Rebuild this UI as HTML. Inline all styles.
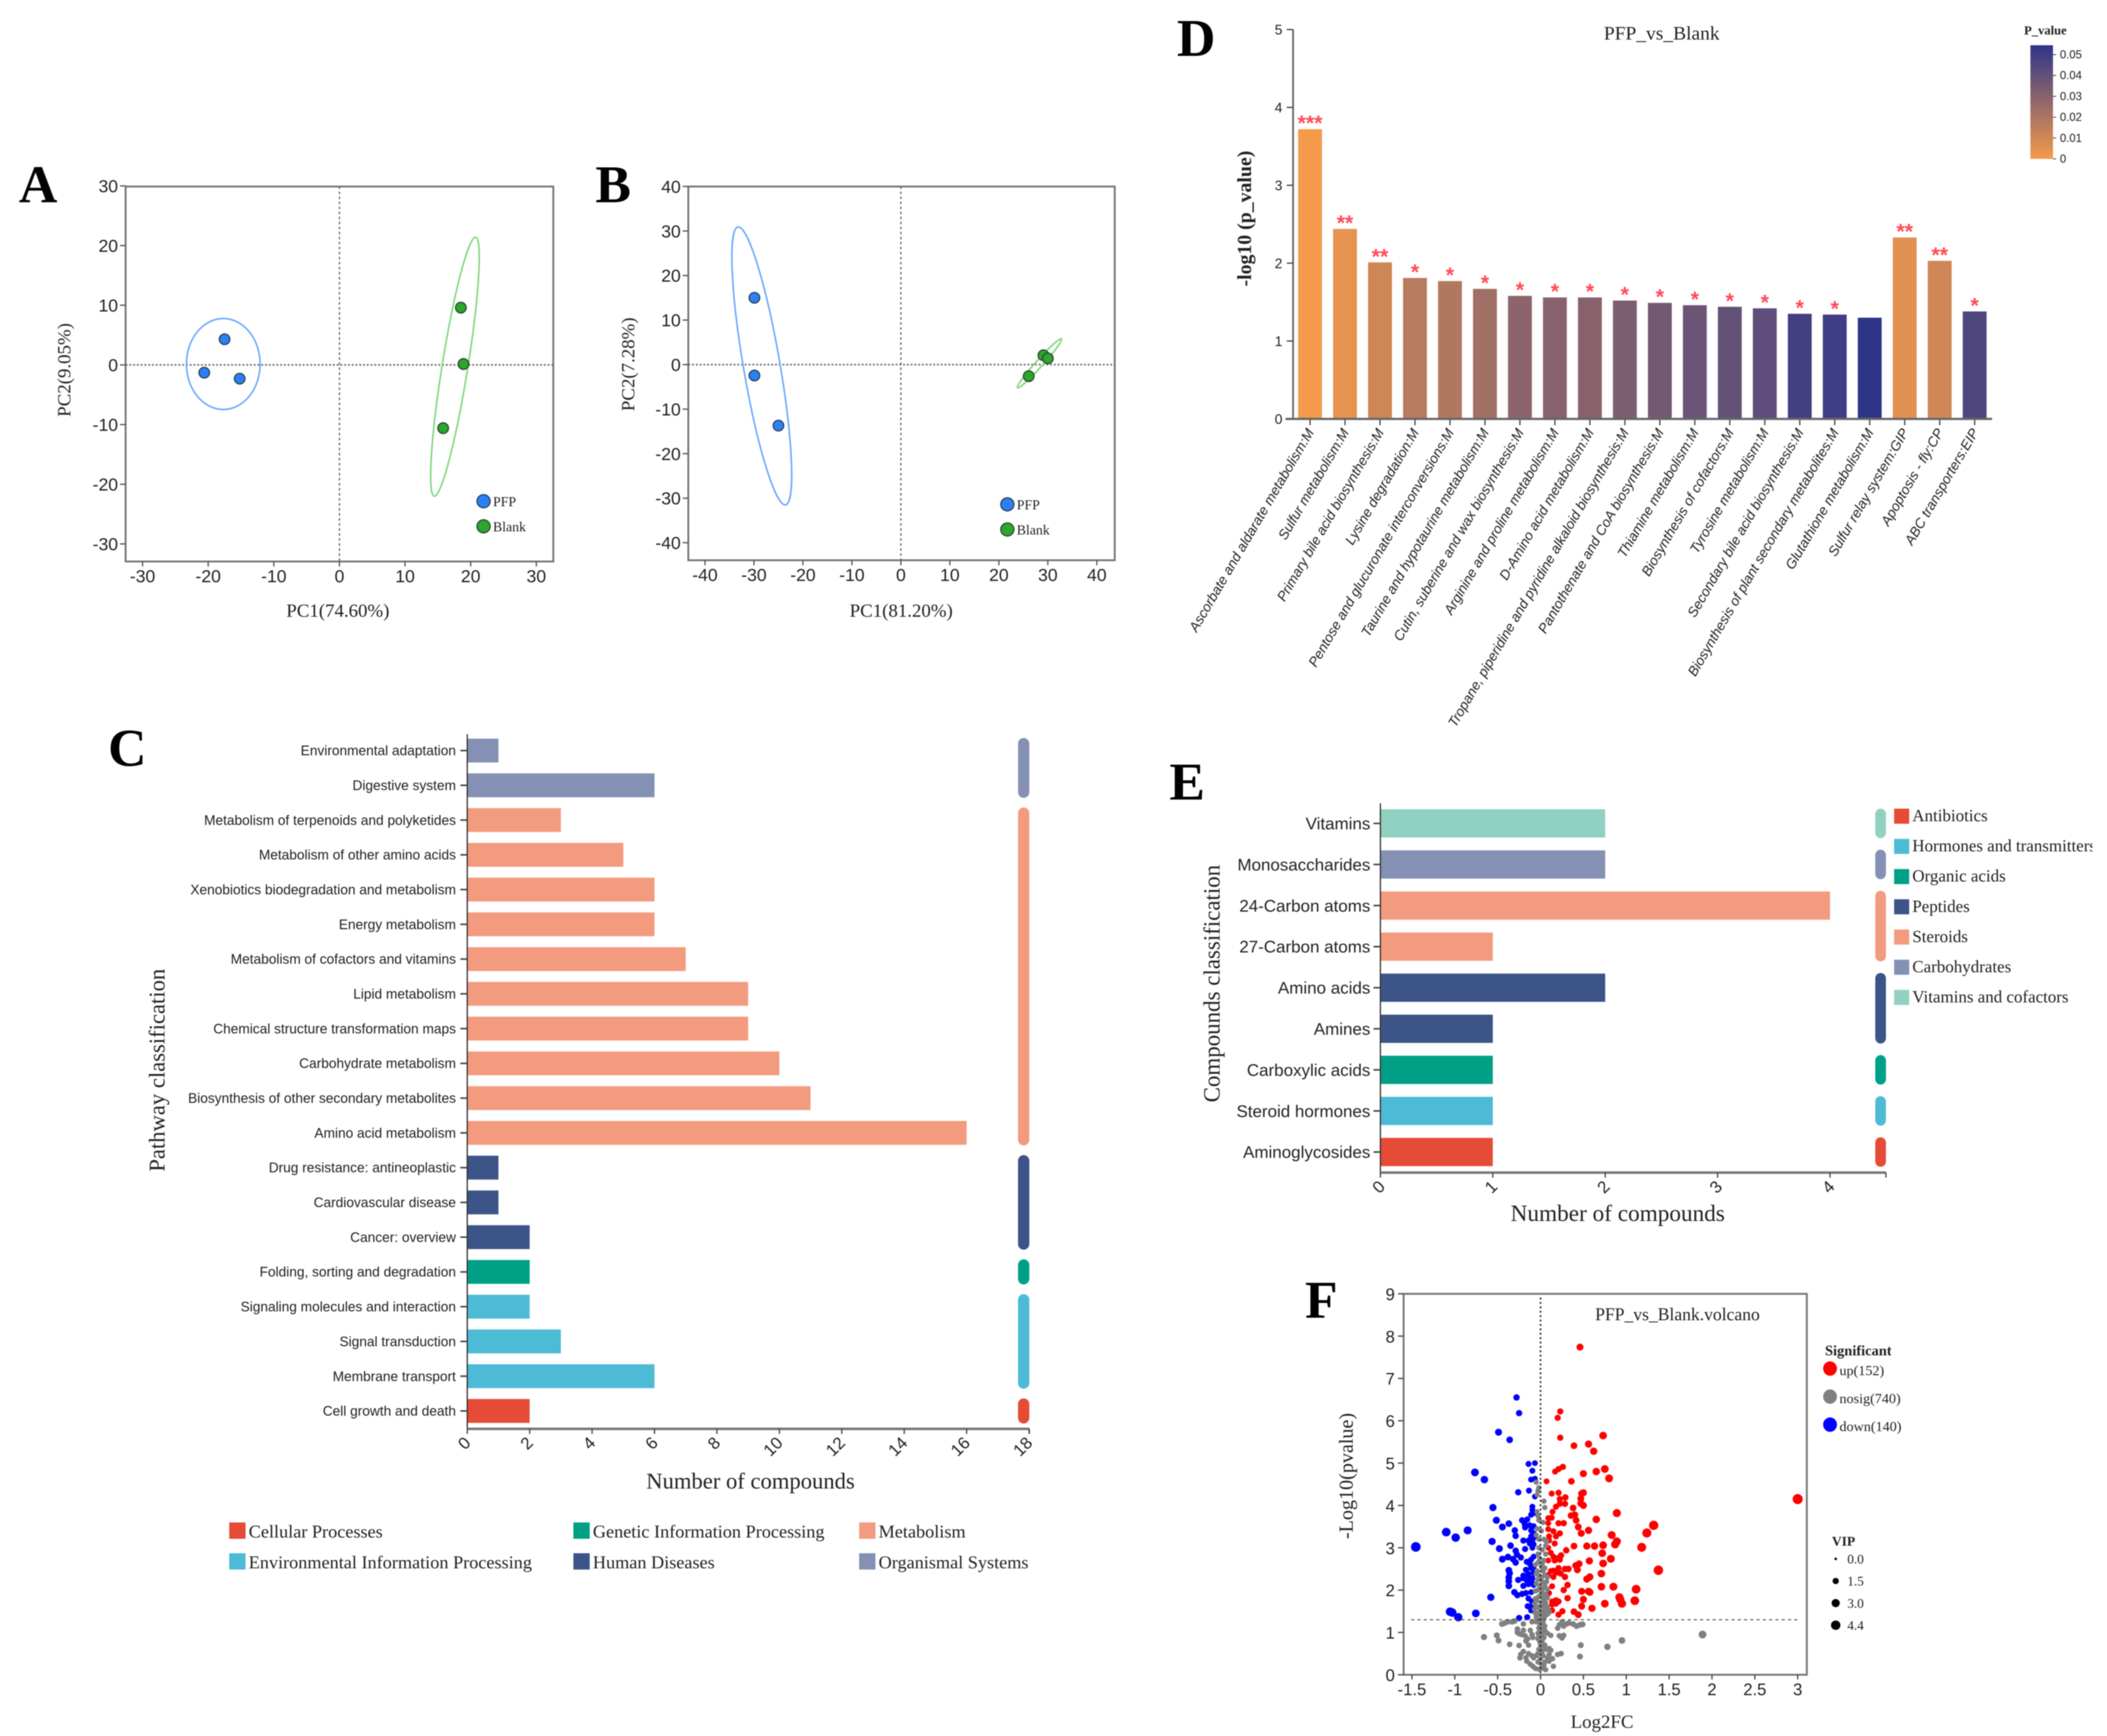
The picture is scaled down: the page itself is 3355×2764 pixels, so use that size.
<!DOCTYPE html>
<html lang="en">
<head>
<meta charset="utf-8">
<title>Metabolomics composite figure</title>
<style>
html,body{margin:0;padding:0;background:#fff;}
#figure{display:block;width:3355px;height:2764px;background:#fff;filter:blur(0.7px);}
.sans{font-family:"Liberation Sans",sans-serif;fill:#222;}
.serif{font-family:"Liberation Serif",serif;fill:#222;}
.letter{font-family:"Liberation Serif",serif;font-weight:700;font-size:85px;fill:#000;}
</style>
</head>
<body>
<svg id="figure" xmlns="http://www.w3.org/2000/svg" width="3355" height="2764" viewBox="0 0 3355 2764">
  <defs>
    <linearGradient id="pGradient" x1="0" y1="1" x2="0" y2="0">
      <stop offset="0" stop-color="#f59a4b"/>
      <stop offset="1" stop-color="#2e3589"/>
    </linearGradient>
    <clipPath id="legendClip"><rect x="3000" y="1270" width="332" height="400"/></clipPath>
  </defs>

  <text class="letter" x="30" y="322">A</text>
  <text class="letter" x="948" y="322">B</text>
  <text class="letter" x="172" y="1219">C</text>
  <text class="letter" x="1874" y="89">D</text>
  <text class="letter" x="1862" y="1273">E</text>
  <text class="letter" x="2078" y="2098">F</text>

  <g id="panelA">
    <text class="serif" x="538" y="982" text-anchor="middle" font-size="30">PC1(74.60%)</text>
    <text class="serif" x="112" y="589" text-anchor="middle" font-size="30" transform="rotate(-90 112 589)">PC2(9.05%)</text>
  </g>
  <g id="panelB">
    <text class="serif" x="1435" y="982" text-anchor="middle" font-size="30">PC1(81.20%)</text>
    <text class="serif" x="1010" y="580" text-anchor="middle" font-size="30" transform="rotate(-90 1010 580)">PC2(7.28%)</text>
  </g>
  <g id="panelC">
    <text class="serif" x="1195" y="2370" text-anchor="middle" font-size="36">Number of compounds</text>
    <text class="serif" x="262" y="1704" text-anchor="middle" font-size="36" transform="rotate(-90 262 1704)">Pathway classification</text>
  </g>
  <g id="panelD">
    <text class="serif" x="2646" y="63" text-anchor="middle" font-size="31">PFP_vs_Blank</text>
    <text class="serif" x="1992" y="348" text-anchor="middle" font-size="31.5" font-weight="700" transform="rotate(-90 1992 348)">-log10 (p_value)</text>
    <text class="serif" x="3223" y="55" font-size="20" font-weight="700">P_value</text>
    <rect x="3233" y="72" width="36" height="181" fill="url(#pGradient)"/>
  </g>
  <g id="panelE">
    <text class="serif" x="2576" y="1944" text-anchor="middle" font-size="37">Number of compounds</text>
    <text class="serif" x="1942" y="1566" text-anchor="middle" font-size="36.5" transform="rotate(-90 1942 1566)">Compounds classification</text>
  </g>
  <g id="panelF">
    <text class="serif" x="2540" y="2102" font-size="28">PFP_vs_Blank.volcano</text>
    <text class="serif" x="2551" y="2751" text-anchor="middle" font-size="30">Log2FC</text>
    <text class="serif" x="2154" y="2350" text-anchor="middle" font-size="32" transform="rotate(-90 2154 2350)">-Log10(pvalue)</text>
    <text class="serif" x="2906" y="2158" font-size="23" font-weight="700">Significant</text>
    <text class="serif" x="2917" y="2461" font-size="21.5" font-weight="700">VIP</text>
  </g>
</svg>

<script>
/* ---------- Panel A / B data ---------- */
const pcaTicksA = [-30, -20, -10, 0, 10, 20, 30];
const pcaAPfpX = [-17.5, -20.6, -15.2];
const pcaAPfpY = [4.3, -1.3, -2.3];
const pcaABlankX = [18.5, 18.9, 15.8];
const pcaABlankY = [9.6, 0.15, -10.6];
const ellipseAPfp = [-17.7, 0.15, 0, 7.62, 0.81];
const ellipseABlank = [17.6, -0.3, 3.16, 21.7, 0.098];

const pcaTicksB = [-40, -30, -20, -10, 0, 10, 20, 30, 40];
const pcaBPfpX = [-29.9, -29.9, -25];
const pcaBPfpY = [15, -2.45, -13.7];
const pcaBBlankX = [29.1, 30, 26.1];
const pcaBBlankY = [2.1, 1.4, -2.6];
const ellipseBPfp = [-28.4, -0.3, -4.86, 31.2, 0.13];
const ellipseBBlank = [28.3, 0.3, 4.5, 5.5, 0.105];

/* ---------- Panel C data ---------- */
const pathwayNames = ["Environmental adaptation","Digestive system","Metabolism of terpenoids and polyketides","Metabolism of other amino acids","Xenobiotics biodegradation and metabolism","Energy metabolism","Metabolism of cofactors and vitamins","Lipid metabolism","Chemical structure transformation maps","Carbohydrate metabolism","Biosynthesis of other secondary metabolites","Amino acid metabolism","Drug resistance: antineoplastic","Cardiovascular disease","Cancer: overview","Folding, sorting and degradation","Signaling molecules and interaction","Signal transduction","Membrane transport","Cell growth and death"];
const pathwayCounts = [1,6,3,5,6,6,7,9,9,10,11,16,1,1,2,2,2,3,6,2];
const pathwayGroups = ["Organismal Systems","Organismal Systems","Metabolism","Metabolism","Metabolism","Metabolism","Metabolism","Metabolism","Metabolism","Metabolism","Metabolism","Metabolism","Human Diseases","Human Diseases","Human Diseases","Genetic Information Processing","Environmental Information Processing","Environmental Information Processing","Environmental Information Processing","Cellular Processes"];
const pathwayTicks = [0,2,4,6,8,10,12,14,16,18];
const pathwayLegendRow1 = ["Cellular Processes","Genetic Information Processing","Metabolism"];
const pathwayLegendRow2 = ["Environmental Information Processing","Human Diseases","Organismal Systems"];

/* ---------- Panel D data ---------- */
const enrichNames = ["Ascorbate and aldarate metabolism:M","Sulfur metabolism:M","Primary bile acid biosynthesis:M","Lysine degradation:M","Pentose and glucuronate interconversions:M","Taurine and hypotaurine metabolism:M","Cutin, suberine and wax biosynthesis:M","Arginine and proline metabolism:M","D-Amino acid metabolism:M","Tropane, piperidine and pyridine alkaloid biosynthesis:M","Pantothenate and CoA biosynthesis:M","Thiamine metabolism:M","Biosynthesis of cofactors:M","Tyrosine metabolism:M","Secondary bile acid biosynthesis:M","Biosynthesis of plant secondary metabolites:M","Glutathione metabolism:M","Sulfur relay system:GIP","Apoptosis - fly:CP","ABC transporters:EIP"];
const enrichValues = [3.72,2.44,2.01,1.81,1.77,1.67,1.58,1.56,1.56,1.52,1.49,1.46,1.44,1.42,1.35,1.34,1.30,2.33,2.03,1.38];
const enrichStars = ["***","**","**","*","*","*","*","*","*","*","*","*","*","*","*","*","","**","**","*"];
const enrichTicks = [0,1,2,3,4,5];
const colorbarTicks = [0,0.01,0.02,0.03,0.04,0.05];

/* ---------- Panel E data ---------- */
const compoundNames = ["Vitamins","Monosaccharides","24-Carbon atoms","27-Carbon atoms","Amino acids","Amines","Carboxylic acids","Steroid hormones","Aminoglycosides"];
const compoundCounts = [2,2,4,1,2,1,1,1,1];
const compoundGroups = ["Vitamins and cofactors","Carbohydrates","Steroids","Steroids","Peptides","Peptides","Organic acids","Hormones and transmitters","Antibiotics"];
const compoundTicks = [0,1,2,3,4];
const compoundLegend = ["Antibiotics","Hormones and transmitters","Organic acids","Peptides","Steroids","Carbohydrates","Vitamins and cofactors"];

/* ---------- Panel F data ---------- */
const volcanoXTicks = [-1.5,-1,-0.5,0,0.5,1,1.5,2,2.5,3];
const volcanoYTicks = [0,1,2,3,4,5,6,7,8,9];
const volcanoThreshold = [1.3];
const volcanoUp = [[.46,7.74],[.23,6.22],[.20,6.07],[.23,5.6],[.73,5.65],[.39,5.41],[.56,5.45],[.62,5.28],[.26,4.91],[.21,4.86],[.17,4.80],[.50,4.75],[.65,4.80],[.75,4.86],[.80,4.64],[.07,4.57],[.36,4.57],[.13,4.28],[.21,4.30],[.48,4.28],[.50,4.30],[.29,4.19],[.225,4.15],[.47,4.16],[.47,4.05],[.5,4.0],[.225,4.04],[.285,4.04],[.18,3.97],[.38,3.94],[.14,3.85],[.89,3.82],[.355,3.76],[.40,3.78],[.415,3.65],[.65,3.67],[.09,3.70],[.13,3.71],[.21,3.58],[.27,3.58],[.09,3.58],[.44,3.49],[.09,3.44],[1.32,3.53],[1.24,3.35],[.56,3.41],[.15,3.39],[.475,3.34],[.225,3.34],[.83,3.30],[.10,3.27],[.18,3.27],[.89,3.15],[.87,3.08],[.10,3.17],[.165,3.10],[.39,3.04],[.54,3.04],[.63,3.04],[.73,3.06],[1.18,3.01],[.09,3.0],[.30,2.94],[.12,2.88],[.72,2.87],[.24,2.82],[.15,2.79],[.21,2.76],[.82,2.74],[.09,2.70],[.165,2.70],[.225,2.72],[.57,2.69],[.73,2.63],[.45,2.62],[.41,2.58],[.43,2.48],[.21,2.52],[.285,2.50],[.325,2.50],[.12,2.45],[.15,2.46],[1.375,2.47],[.18,2.41],[.235,2.39],[.71,2.39],[.09,2.36],[.15,2.31],[.285,2.31],[.575,2.31],[.54,2.26],[.71,2.08],[.85,2.08],[.315,2.12],[.135,2.09],[1.115,2.02],[.27,2.0],[.48,1.97],[.56,1.97],[.575,1.95],[.10,1.93],[.92,1.83],[.93,1.78],[.315,1.81],[.50,1.78],[.18,1.76],[.21,1.73],[.135,1.73],[.135,1.66],[.18,1.68],[1.10,1.75],[.75,1.68],[.95,1.68],[.48,1.62],[.60,1.57],[.135,1.52],[.255,1.50],[.21,1.42],[.39,1.49],[.44,1.42],[3.0,4.15]];
const volcanoDown = [[-.28,6.55],[-.25,6.18],[-.49,5.73],[-.36,5.55],[-.14,4.98],[-.065,5.0],[-.095,4.82],[-.765,4.78],[-.655,4.61],[-.11,4.61],[-.065,4.63],[-.26,4.31],[-.135,4.35],[-.065,4.21],[-.555,3.95],[-.095,3.97],[-.095,3.89],[-.11,3.78],[-.08,3.82],[-.515,3.65],[-.215,3.65],[-.155,3.67],[-.445,3.49],[-.37,3.57],[-.185,3.56],[-.125,3.53],[-.08,3.51],[-.18,3.48],[-.30,3.41],[-.85,3.41],[-1.10,3.37],[-.99,3.24],[-.29,3.28],[-.11,3.41],[-.08,3.34],[-.11,3.27],[-.08,3.24],[-.565,3.15],[-.20,3.17],[-.14,3.17],[-.095,3.17],[-.125,3.10],[-.08,3.08],[-.35,3.05],[-.48,2.98],[-1.455,3.02],[-.18,2.97],[-.095,3.0],[-.29,2.93],[-.275,2.84],[-.38,2.78],[-.445,2.73],[-.32,2.73],[-.23,2.77],[-.29,2.65],[-.16,2.67],[-.11,2.72],[-.08,2.79],[-.125,2.62],[-.37,2.47],[-.36,2.40],[-.37,2.30],[-.17,2.48],[-.11,2.52],[-.08,2.55],[-.20,2.34],[-.14,2.38],[-.08,2.41],[-.26,2.24],[-.20,2.28],[-.14,2.28],[-.095,2.28],[-.37,2.21],[-.37,2.10],[-.155,2.21],[-.095,2.17],[-.20,2.10],[-.14,2.14],[-.08,2.12],[-.58,1.83],[-.305,1.95],[-.27,1.88],[-.215,1.91],[-.17,1.93],[-.11,1.95],[-.14,1.80],[-.10,1.73],[-.15,1.62],[-.10,1.62],[-.11,1.52],[-1.055,1.49],[-1.03,1.47],[-.96,1.36],[-.755,1.45],[-.25,1.34],[-.155,1.36]];
const volcanoNosig = [[-.05,4.55],[-.02,4.42],[-.03,4.35],[-.04,4.25],[.04,4.1],[.05,3.95],[-.04,3.85],[-.03,3.75],[-.02,3.65],[.03,3.6],[-.04,3.45],[.01,3.4],[-.05,3.3],[-.02,3.2],[.04,3.2],[.07,3.15],[-.02,3.0],[.06,3.05],[.02,2.95],[-.03,2.85],[.06,2.85],[-.01,2.75],[.04,2.7],[-.03,2.65],[.01,2.55],[-.04,2.45],[.03,2.45],[-.02,2.35],[.05,2.35],[.08,2.3],[-.03,2.25],[.02,2.2],[-.01,2.1],[.05,2.1],[-.03,2.0],[.02,1.95],[.06,1.9],[-.02,1.85],[.03,1.8],[-.04,1.75],[.01,1.7],[.06,1.7],[-.03,1.6],[.03,1.6],[.08,1.6],[-.01,1.5],[.04,1.5],[.1,1.5],[-.03,1.42],[.02,1.4],[.07,1.42],[-.05,1.35],[.01,1.32],[-.06,2.6],[.02,2.62],[.05,2.52],[-.05,2.38],[.01,2.3],[.07,2.2],[-.05,2.15],[.03,2.05],[.08,2.02],[-.06,1.98],[.01,1.88],[.08,1.82],[-.06,1.8],[.05,1.75],[-.07,1.68],[-.01,1.62],[.05,1.55],[-.07,1.55],[.09,1.45],[-.06,1.45],[.05,1.38],[-.02,1.28],[.04,1.34],[-.45,1.2],[-.42,1.22],[-.38,1.25],[-.33,1.25],[-.3,1.27],[-.2,1.2],[-.1,1.25],[-.05,1.25],[0,1.2],[.03,1.25],[.05,1.15],[.2,1.1],[.22,1.18],[.25,1.25],[.27,1.15],[.3,1.2],[.33,1.22],[.38,1.2],[.42,1.15],[.46,1.18],[.49,1.19],[-.27,1.08],[-.27,1.0],[-.2,1.05],[-.22,.95],[-.25,.97],[-.18,.92],[-.12,1.05],[-.1,.95],[-.09,.88],[-.15,.85],[-.02,1.1],[0,1.0],[.02,.95],[.05,1.05],[.08,.98],[.12,.93],[.22,.92],[.25,.87],[.27,.93],[-.66,.89],[-.51,.93],[-.49,.81],[-.36,.72],[-.17,.8],[-.14,.7],[-.25,.69],[-.03,.85],[.02,.8],[0,.7],[.05,.7],[.07,.6],[.1,.62],[.12,.58],[-.02,.6],[.02,.55],[.47,.7],[.78,.66],[.95,.81],[-.2,.55],[-.23,.48],[-.14,.5],[-.1,.45],[-.08,.4],[-.17,.4],[-.24,.4],[-.16,.32],[-.05,.45],[.03,.45],[.08,.4],[.1,.48],[.1,.32],[.05,.3],[.14,.38],[.2,.48],[.24,.5],[.46,.43],[.15,.2],[-.12,.25],[-.09,.2],[-.06,.15],[-.02,.13],[.02,.15],[.06,.12],[-.03,.3],[.01,.25],[-.01,1.15],[.01,1.08],[-.03,.98],[-.02,.9],[.04,.88],[-.01,.78],[.03,.62],[-.03,.5],[0,.38],[.04,.22],[1.89,.95]];
const sigLegendLabels = ["up(152)","nosig(740)","down(140)"];
const vipLegendLabels = ["0.0","1.5","3.0","4.4"];

/* ---------- Helpers ---------- */
const SVGNS = "http://www.w3.org/2000/svg";
const groupColors = {
  "Cellular Processes":"#e64b35","Environmental Information Processing":"#4dbbd5","Genetic Information Processing":"#00a087",
  "Human Diseases":"#3c5488","Metabolism":"#f39b7f","Organismal Systems":"#8491b4",
  "Antibiotics":"#e64b35","Hormones and transmitters":"#4dbbd5","Organic acids":"#00a087","Peptides":"#3c5488",
  "Steroids":"#f39b7f","Carbohydrates":"#8491b4","Vitamins and cofactors":"#91d1c2"
};
function add(parent, tag, attrs, content) {
  const el = document.createElementNS(SVGNS, tag);
  for (const k in attrs) el.setAttribute(k, attrs[k]);
  if (content !== undefined) el.textContent = content;
  parent.appendChild(el);
  return el;
}
function slug(s) { return String(s).toLowerCase().replace(/[^a-z0-9.]+/g, "-").replace(/^-|-$/g, ""); }
function label(v) { return String(v); }

/* ---------- PCA panels ---------- */
function drawPca(g, key, box, xs, ys, ticks, pfpX, pfpY, blankX, blankY, ellPfp, ellBlank, legend) {
  const frame = add(g, "rect", {x:box.l, y:box.t, width:box.r-box.l, height:box.b-box.t, fill:"none", stroke:"#777", "stroke-width":3});
  
  
  ticks.forEach(function (t) {
    const xt = add(g, "line", {x1:xs(t), x2:xs(t), y1:box.b, y2:box.b+8, stroke:"#555", "stroke-width":2});
    
    
    const xl = add(g, "text", {x:xs(t), y:box.b+33, "text-anchor":"middle", class:"sans", "font-size":28}, label(t));
    
    
    const yt = add(g, "line", {x1:box.l-9, x2:box.l, y1:ys(t), y2:ys(t), stroke:"#555", "stroke-width":2});
    
    
    const yl = add(g, "text", {x:box.l-12, y:ys(t)+10, "text-anchor":"end", class:"sans", "font-size":28}, label(t));
    
    
  });
  const h0 = add(g, "line", {x1:box.l, x2:box.r, y1:ys(0), y2:ys(0), stroke:"#666", "stroke-width":2.5, "stroke-dasharray":"3 3"});
  
  
  const v0 = add(g, "line", {x1:xs(0), x2:xs(0), y1:box.t, y2:box.b, stroke:"#666", "stroke-width":2, "stroke-dasharray":"4 4"});
  
  

  function ellipse(e, color, name) {
    const cx = xs(e[0]), cy = ys(e[1]);
    const tx = xs(e[0]+e[2])-cx, ty = ys(e[1]+e[3])-cy;
    const a = Math.hypot(tx, ty);
    const ang = Math.atan2(ty, tx) * 180 / Math.PI;
    const el = add(g, "ellipse", {cx:cx, cy:cy, rx:a, ry:a*e[4], fill:"none", stroke:color, "stroke-width":2.5, transform:"rotate("+ang+" "+cx+" "+cy+")"});
    
    
  }
  ellipse(ellPfp, "#6aa8ff", "confidence-ellipse-pfp-" + key);
  ellipse(ellBlank, "#7fd67f", "confidence-ellipse-blank-" + key);

  pfpX.forEach(function (x, i) {
    const p = add(g, "circle", {cx:xs(x), cy:ys(pfpY[i]), r:8.5, fill:"#2b80f5", stroke:"#2a3a4a", "stroke-width":1.8});
    
    
  });
  blankX.forEach(function (x, i) {
    const p = add(g, "circle", {cx:xs(x), cy:ys(blankY[i]), r:8.5, fill:"#2ea52e", stroke:"#24452a", "stroke-width":1.8});
    
    
  });

  const l1 = add(g, "circle", {cx:legend.cx, cy:legend.y1, r:10.5, fill:"#2b80f5", stroke:"#2a3a4a", "stroke-width":1.8});
  
  
  const t1 = add(g, "text", {x:legend.tx, y:legend.y1+8, class:"serif", "font-size":22}, "PFP");
  
  
  const l2 = add(g, "circle", {cx:legend.cx, cy:legend.y2, r:10.5, fill:"#2ea52e", stroke:"#24452a", "stroke-width":1.8});
  
  
  const t2 = add(g, "text", {x:legend.tx, y:legend.y2+8, class:"serif", "font-size":22}, "Blank");
  
  
}
drawPca(document.getElementById("panelA"), "a", {l:200,r:881,t:297,b:894},
  function (v) { return 540.5 + 10.45 * v; }, function (v) { return 581 - 9.5 * v; },
  pcaTicksA, pcaAPfpX, pcaAPfpY, pcaABlankX, pcaABlankY, ellipseAPfp, ellipseABlank,
  {cx:770, tx:785, y1:798, y2:838});
drawPca(document.getElementById("panelB"), "b", {l:1096,r:1775,t:297,b:892},
  function (v) { return 1434.5 + 7.8 * v; }, function (v) { return 580.5 - 7.09 * v; },
  pcaTicksB, pcaBPfpX, pcaBPfpY, pcaBBlankX, pcaBBlankY, ellipseBPfp, ellipseBBlank,
  {cx:1604, tx:1619, y1:803, y2:843});

/* ---------- Horizontal category bars (panels C, E) ---------- */
function drawHBars(g, key, cfg, names, counts, groups, ticks) {
  const xs = function (v) { return cfg.x0 + cfg.unit * v; };
  const ys = function (i) { return cfg.y0 + cfg.step * i; };
  const yAxis = add(g, "line", {x1:cfg.x0, x2:cfg.x0, y1:cfg.top, y2:cfg.base, stroke:"#333", "stroke-width":2});
  
  
  const xAxis = add(g, "line", {x1:cfg.x0, x2:cfg.xEnd, y1:cfg.base, y2:cfg.base, stroke:"#777", "stroke-width":4});
  
  
  ticks.forEach(function (t) {
    const tk = add(g, "line", {x1:xs(t), x2:xs(t), y1:cfg.base, y2:cfg.base+8, stroke:"#444", "stroke-width":2});
    
    
    const ax = xs(t)+cfg.tickDx, ay = cfg.base+cfg.tickDy;
    const tl = add(g, "text", {x:ax, y:ay, "text-anchor":"end", class:"sans", "font-size":cfg.tickFont, transform:"rotate(-45 "+ax+" "+ay+")"}, label(t));
    
    
  });
  const endTick = add(g, "line", {x1:cfg.xEnd, x2:cfg.xEnd, y1:cfg.base, y2:cfg.base+8, stroke:"#444", "stroke-width":2});
  
  

  names.forEach(function (n, i) {
    const y = ys(i);
    const bar = add(g, "rect", {x:cfg.x0+1, y:y-cfg.barH/2, width:xs(counts[i])-cfg.x0-1, height:cfg.barH, fill:groupColors[groups[i]]});
    
    
    const tk = add(g, "line", {x1:cfg.x0-11, x2:cfg.x0, y1:y, y2:y, stroke:"#444", "stroke-width":2.5});
    
    
    const tl = add(g, "text", {x:cfg.labelX, y:y+cfg.catFont*0.35, "text-anchor":"end", class:"sans", "font-size":cfg.catFont}, n);
    
    
  });
  let start = 0;
  for (let i = 1; i <= names.length; i++) {
    if (i === names.length || groups[i] !== groups[start]) {
      const top = ys(start) - cfg.barH/2 - 1, bottom = ys(i-1) + cfg.barH/2 + 1;
      const strip = add(g, "rect", {x:cfg.stripX, y:top, width:cfg.stripW, height:bottom-top, rx:cfg.stripW/2, ry:cfg.stripW/2, fill:groupColors[groups[start]]});
      
      
      start = i;
    }
  }
}
drawHBars(document.getElementById("panelC"), "c",
  {x0:744, unit:49.7, xEnd:1639, y0:1195, step:55.34, barH:38, top:1169, base:2275, labelX:726, catFont:21.8, tickFont:27, tickDx:7, tickDy:24, stripX:1621, stripW:18},
  pathwayNames, pathwayCounts, pathwayGroups, pathwayTicks);
drawHBars(document.getElementById("panelE"), "e",
  {x0:2198, unit:179, xEnd:3003, y0:1311, step:65.4, barH:45, top:1279, base:1867, labelX:2182, catFont:27, tickFont:27, tickDx:9, tickDy:24, stripX:2986, stripW:17},
  compoundNames, compoundCounts, compoundGroups, compoundTicks);

/* Panel C legend */
const gC = document.getElementById("panelC");
const legendColsC = [365, 913, 1368];
[pathwayLegendRow1, pathwayLegendRow2].forEach(function (row, r) {
  row.forEach(function (name, c) {
    const yTop = 2424 + r * 49;
    const sw = add(gC, "rect", {x:legendColsC[c], y:yTop, width:26, height:26, fill:groupColors[name]});
    
    
    const tx = add(gC, "text", {x:legendColsC[c]+31, y:yTop+24, class:"serif", "font-size":29}, name);
    
    
  });
});

/* Panel E legend */
const gE = document.getElementById("panelE");
const legendClipGroup = add(gE, "g", {"clip-path":"url(#legendClip)"});


compoundLegend.forEach(function (name, i) {
  const cy = 1299.5 + i * 48.1;
  const sw = add(legendClipGroup, "rect", {x:3016, y:cy-12, width:24, height:24, fill:groupColors[name]});
  
  
  const tx = add(legendClipGroup, "text", {x:3045, y:cy+8, class:"serif", "font-size":27}, name);
  
  
});

/* ---------- Panel D ---------- */
const gD = document.getElementById("panelD");
const dy = function (v) { return 667 - 124 * v; };
const dx = function (i) { return 2086 + 55.7 * i; };
function pColor(v) {
  const t = Math.min(1, Math.pow(10, -v) / 0.05);
  const a = [245,154,75], b = [46,53,137];
  return "rgb(" + a.map(function (c, k) { return Math.round(c + (b[k]-c)*t); }).join(",") + ")";
}
const dYAxis = add(gD, "line", {x1:2059, x2:2059, y1:47, y2:667, stroke:"#555", "stroke-width":2.5});


enrichTicks.forEach(function (t) {
  const tk = add(gD, "line", {x1:2049, x2:2059, y1:dy(t), y2:dy(t), stroke:"#444", "stroke-width":2});
  
  
  const tl = add(gD, "text", {x:2042, y:dy(t)+8, "text-anchor":"end", class:"sans", "font-size":22}, label(t));
  
  
});
enrichNames.forEach(function (n, i) {
  const bar = add(gD, "rect", {x:dx(i)-19, y:dy(enrichValues[i]), width:38, height:667-dy(enrichValues[i]), fill:pColor(enrichValues[i])});
  
  
  const tk = add(gD, "line", {x1:dx(i), x2:dx(i), y1:667, y2:677, stroke:"#444", "stroke-width":2});
  
  
  const ax = dx(i)+7, ay = 688;
  const tl = add(gD, "text", {x:ax, y:ay, "text-anchor":"end", class:"sans", "font-size":22, "font-style":"italic", fill:"#333", transform:"rotate(-59.6 "+ax+" "+ay+")"}, n);
  
  
  if (enrichStars[i]) {
    const st = add(gD, "text", {x:dx(i), y:dy(enrichValues[i])+2, "text-anchor":"middle", class:"sans", "font-size":34, "font-weight":"700", style:"fill:#ff4a55"}, enrichStars[i]);
    
    
  }
});
const dBase = add(gD, "line", {x1:2047, x2:3172, y1:667, y2:667, stroke:"#666", "stroke-width":3.5});


const cbY = function (v) { return 253 - v * 3320; };
colorbarTicks.forEach(function (t) {
  const tk = add(gD, "line", {x1:3269, x2:3274, y1:cbY(t), y2:cbY(t), stroke:"#555", "stroke-width":1.5});
  
  
  const tl = add(gD, "text", {x:3280, y:cbY(t)+6, class:"sans", "font-size":18}, label(t));
  
  
});

/* ---------- Panel F ---------- */
const gF = document.getElementById("panelF");
const fx = function (v) { return 2453 + 136.5 * v; };
const fy = function (v) { return 2666.5 - 67.4 * v; };
const fFrame = add(gF, "rect", {x:2235, y:2060, width:642, height:606.5, fill:"none", stroke:"#777", "stroke-width":3});


volcanoXTicks.forEach(function (t) {
  const tk = add(gF, "line", {x1:fx(t), x2:fx(t), y1:2666.5, y2:2674, stroke:"#444", "stroke-width":2});
  
  
  const tl = add(gF, "text", {x:fx(t), y:2699, "text-anchor":"middle", class:"sans", "font-size":26.5}, label(t));
  
  
});
volcanoYTicks.forEach(function (t) {
  const tk = add(gF, "line", {x1:2226, x2:2235, y1:fy(t), y2:fy(t), stroke:"#444", "stroke-width":2});
  
  
  const tl = add(gF, "text", {x:2221, y:fy(t)+10, "text-anchor":"end", class:"sans", "font-size":26.5}, label(t));
  
  
});
volcanoUp.forEach(function (p) {
  const c = add(gF, "circle", {cx:fx(p[0]), cy:fy(p[1]), r:Math.min(8, 4.5 + 2.2*Math.abs(p[0])), fill:"#ff0000"});
  
  
});
volcanoDown.forEach(function (p) {
  const c = add(gF, "circle", {cx:fx(p[0]), cy:fy(p[1]), r:Math.min(8, 4.5 + 2.2*Math.abs(p[0])), fill:"#0000ff"});
  
  
});
volcanoNosig.forEach(function (p) {
  const c = add(gF, "circle", {cx:fx(p[0]), cy:fy(p[1]), r:Math.min(6.2, 4.2 + 1.2*Math.abs(p[0])), fill:"#808080"});
  
  
});
const fH = add(gF, "line", {x1:2247, x2:2862, y1:fy(volcanoThreshold[0]), y2:fy(volcanoThreshold[0]), stroke:"#444", "stroke-width":1.6, "stroke-dasharray":"5 5"});


const fV = add(gF, "line", {x1:fx(0), x2:fx(0), y1:2066, y2:2666, stroke:"#222", "stroke-width":2.4, "stroke-dasharray":"3 4"});


const sigColors = ["#ff0000","#808080","#0000ff"];
sigLegendLabels.forEach(function (s, i) {
  const c = add(gF, "ellipse", {cx:2914, cy:2179 + i*44.6, rx:11, ry:11.5, fill:sigColors[i]});
  
  
  const t = add(gF, "text", {x:2929, y:2189.5 + i*44.4, class:"serif", "font-size":22.5}, s);
  
  
});
const vipRadii = [2, 5, 6.5, 7.5];
vipLegendLabels.forEach(function (s, i) {
  const cy = 2482 + i*35.2;
  const c = add(gF, "circle", {cx:2923, cy:cy, r:vipRadii[i], fill:"#000"});
  
  
  const t = add(gF, "text", {x:2941.5, y:cy+7.5, class:"serif", "font-size":21}, s);
  
  
});
</script>
</body>
</html>
